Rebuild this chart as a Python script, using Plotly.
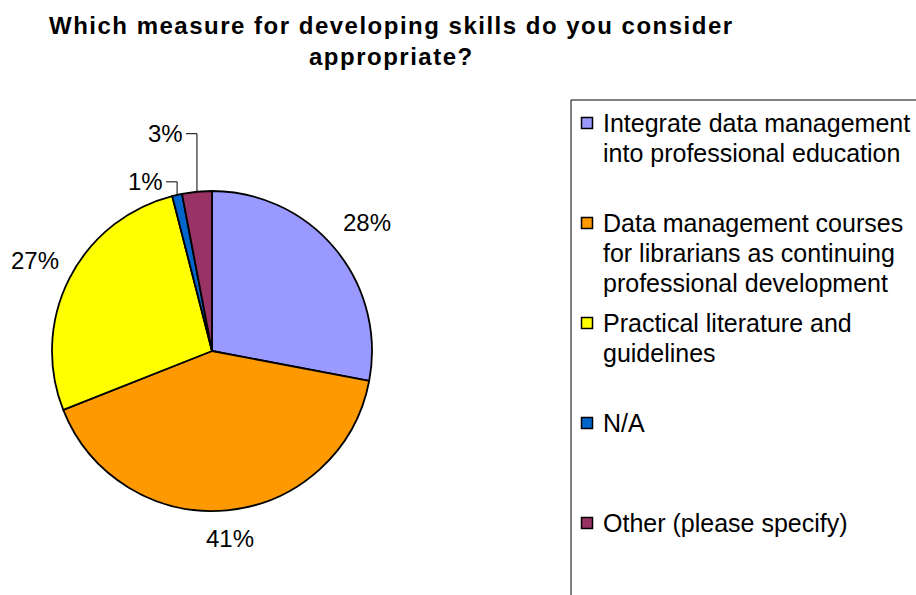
import math
import plotly.graph_objects as go

# ---- data -----------------------------------------------------------------
title_lines = ["Which measure for developing skills do you consider", "appropriate?"]

# "\n" marks where each legend entry wraps
categories = [
    "Integrate data management\ninto professional education",
    "Data management courses\nfor librarians as continuing\nprofessional development",
    "Practical literature and\nguidelines",
    "N/A",
    "Other (please specify)",
]
shares = [28, 41, 27, 1, 3]          # percent of respondents
colors = ["#9999FF", "#FF9900", "#FFFF00", "#0066CC", "#993366"]

# ---- page geometry (pixels) -------------------------------------------------
W, H = 916, 595
CX, CY, R = 212, 351, 160            # pie centre and radius

FONT = "Liberation Sans, Arial, sans-serif"


def fx(px):
    return px / W


def fy(py):
    return 1 - py / H


def spaced(text, ls):
    return f'<span style="letter-spacing:{ls}px">{text}</span>'


fig = go.Figure()

fig.add_trace(go.Pie(
    labels=[c.replace("\n", " ") for c in categories],
    values=shares,
    marker=dict(colors=colors, line=dict(color="black", width=1.8)),
    sort=False,
    direction="clockwise",
    rotation=0,
    textinfo="none",
    hoverinfo="label+percent",
    showlegend=False,
    domain=dict(x=[fx(CX - R), fx(CX + R)], y=[fy(CY + R), fy(CY - R)]),
))

annotations = []
shapes = []

# ---- title ------------------------------------------------------------------
for i, line in enumerate(title_lines):
    annotations.append(dict(
        x=fx(391), y=fy(26 + 31 * i), xref="paper", yref="paper",
        text="<b>" + spaced(line, 1.5) + "</b>", showarrow=False,
        xanchor="center", yanchor="middle",
        font=dict(family=FONT, size=24, color="black"),
    ))

# ---- slice percentage labels -------------------------------------------------
label_radius = [1.26, 1.18, 1.24, None, None]   # radial placement, multiples of R
leader_rise = [None, None, None, 13, 58]         # small slices: leader height (px)
HOOK = 11

total = sum(shares)
cum = 0
for i, v in enumerate(shares):
    theta = 2 * math.pi * (cum + v / 2) / total
    cum += v
    sx, sy = math.sin(theta), -math.cos(theta)
    pct = f"{round(100 * v / total)}%"
    lab_font = dict(family=FONT, size=24, color="black")
    if label_radius[i] is not None:
        lx = CX + label_radius[i] * R * sx
        ly = CY + label_radius[i] * R * sy
        annotations.append(dict(
            x=fx(lx), y=fy(ly), xref="paper", yref="paper",
            text=pct, showarrow=False,
            xanchor="center", yanchor="middle", font=lab_font,
        ))
    else:
        rx, ry = CX + R * sx, CY + R * sy
        ey = ry - leader_rise[i]
        shapes.append(dict(
            type="path", xref="paper", yref="paper",
            path=f"M {fx(rx)} {fy(ry)} L {fx(rx)} {fy(ey)} L {fx(rx - HOOK)} {fy(ey)}",
            line=dict(color="black", width=1),
        ))
        annotations.append(dict(
            x=fx(rx - HOOK - 1), y=fy(ey), xref="paper", yref="paper",
            text=pct, showarrow=False,
            xanchor="right", yanchor="middle", font=lab_font,
        ))

# ---- legend -----------------------------------------------------------------
LEG_X0, LEG_Y0 = 571, 100
ROW0, ROW_STEP, LINE_STEP = 123, 100, 30
SWATCH_X, SWATCH = 587, 11
TEXT_X = 601

shapes.append(dict(
    type="rect", xref="paper", yref="paper",
    x0=fx(LEG_X0), y0=fy(H + 20), x1=fx(W + 20), y1=fy(LEG_Y0),
    line=dict(color="black", width=1), fillcolor="rgba(0,0,0,0)",
))

for i, (cat, col) in enumerate(zip(categories, colors)):
    row_y = ROW0 + ROW_STEP * i
    shapes.append(dict(
        type="rect", xref="paper", yref="paper",
        x0=fx(SWATCH_X - SWATCH / 2), x1=fx(SWATCH_X + SWATCH / 2),
        y0=fy(row_y + SWATCH / 2), y1=fy(row_y - SWATCH / 2),
        line=dict(color="black", width=1.5), fillcolor=col,
    ))
    for j, line in enumerate(cat.split("\n")):
        annotations.append(dict(
            x=fx(TEXT_X), y=fy(row_y + LINE_STEP * j), xref="paper", yref="paper",
            text=line, showarrow=False,
            xanchor="left", yanchor="middle",
            font=dict(family=FONT, size=25, color="black"),
        ))

fig.update_layout(
    width=W, height=H,
    margin=dict(l=0, r=0, t=0, b=0),
    paper_bgcolor="white", plot_bgcolor="white",
    annotations=annotations, shapes=shapes,
)

fig.write_html("out.html")
